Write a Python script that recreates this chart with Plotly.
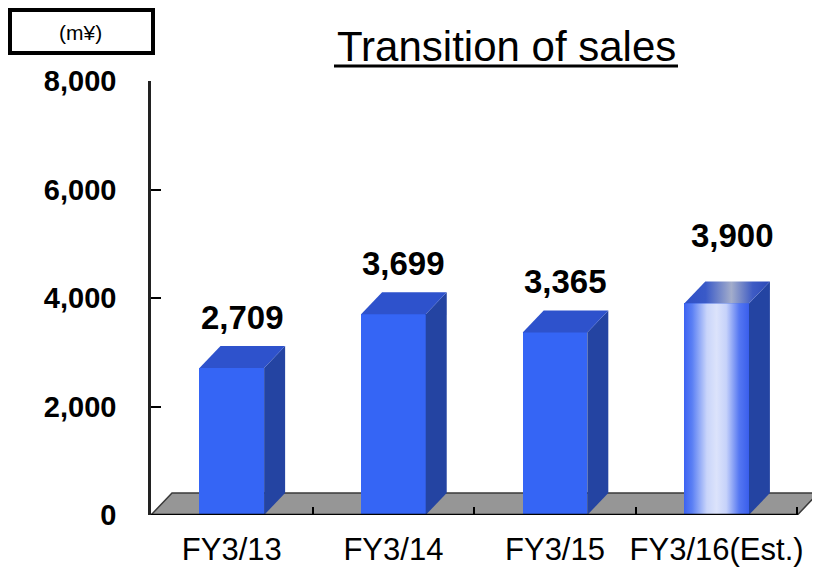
import plotly.graph_objects as go

# ---- data ----
categories = ["FY3/13", "FY3/14", "FY3/15", "FY3/16(Est.)"]
sales = [2709, 3699, 3365, 3900]
value_labels = ["2,709", "3,699", "3,365", "3,900"]
y_ticks = [0, 2000, 4000, 6000, 8000]
y_tick_labels = ["0", "2,000", "4,000", "6,000", "8,000"]
title_text = "Transition of sales"
unit_text = "(m¥)"

# ---- geometry / style ----
W, H = 820, 575
OFF = 8                      # page offset of the figure
PL, PR, PT, PB = 143, 812, 73, 507   # plot area in figure pixels
XR = [-0.5, 3.64]
YR = [0, 8000]
BW = 0.40          # bar width (category units)
DX = 0.13          # 3D depth, x units
DY = 405           # 3D depth, y units
LABEL_YSHIFT = [8, 8, 8, 25]
LABEL_XSHIFT = [0, 0, 0, 5]

FRONT = "#3565F5"
TOP = "#2E52CC"
SIDE = "#2444A2"
FONT = "Liberation Sans, Arial, sans-serif"

def px_x(p):  # screen px -> paper
    return (p - OFF - PL) / (PR - PL)

def px_y(p):
    return (PB - (p - OFF)) / (PB - PT)

xs = list(range(len(categories)))
fig = go.Figure()

# front faces
fig.add_trace(go.Bar(
    x=xs, y=sales, width=BW, marker=dict(color=FRONT, line=dict(width=0)),
    hoverinfo="skip", showlegend=False))

# side and top faces
for i, v in enumerate(sales):
    xl, xr = i - BW / 2, i + BW / 2
    fig.add_trace(go.Scatter(
        x=[xr, xr + DX, xr + DX, xr, xr], y=[0, DY, v + DY, v, 0],
        fill="toself", fillcolor=SIDE, mode="lines", line=dict(width=0),
        hoverinfo="skip", showlegend=False))
    top_kw = dict(fillcolor=TOP)
    if i == len(sales) - 1:
        top_kw = dict(fillgradient=dict(
            type="horizontal",
            colorscale=[[0, "#2E4FC6"], [0.25, "#3A5AC8"], [0.55, "#A3ADCB"],
                        [0.8, "#3E5BC4"], [1, "#2B49B8"]]))
    fig.add_trace(go.Scatter(
        x=[xl, xr, xr + DX, xl + DX, xl], y=[v, v, v + DY, v + DY, v],
        fill="toself", mode="lines", line=dict(width=0),
        hoverinfo="skip", showlegend=False, **top_kw))

# gradient front of the estimate bar
i = len(sales) - 1
v = sales[i]
xl, xr = i - BW / 2, i + BW / 2
fig.add_trace(go.Scatter(
    x=[xl, xr, xr, xl, xl], y=[0, 0, v, v, 0],
    fill="toself", mode="lines", line=dict(width=0),
    fillgradient=dict(type="horizontal", colorscale=[
        [0, "#3D63F2"], [0.12, "#5A7FF4"], [0.35, "#C9D5FA"], [0.5, "#DCE3FB"],
        [0.65, "#C6D2FA"], [0.85, "#5577F2"], [1, "#3A5EEC"]]),
    hoverinfo="skip", showlegend=False))

# value labels
annotations = []
for i, (v, t) in enumerate(zip(sales, value_labels)):
    annotations.append(dict(
        x=i + DX / 2, y=v + DY, xref="x", yref="y", text=f"<b>{t}</b>",
        showarrow=False, yanchor="bottom",
        yshift=LABEL_YSHIFT[i], xshift=LABEL_XSHIFT[i],
        font=dict(family=FONT, size=33, color="black")))

# title and unit box
annotations.append(dict(
    x=px_x(506), y=px_y(46), xref="paper", yref="paper", text=title_text,
    showarrow=False, xanchor="center", yanchor="middle",
    font=dict(family=FONT, size=42, color="black")))
annotations.append(dict(
    x=px_x(80), y=px_y(32), xref="paper", yref="paper", text=unit_text,
    showarrow=False, xanchor="center", yanchor="middle",
    font=dict(family=FONT, size=21, color="black")))

shapes = [
    # floor
    dict(type="path", xref="x", yref="y", layer="below",
         path=f"M {XR[0]},0 L 3.5,0 L {3.5 + DX},{DY} L {XR[0] + DX},{DY} Z",
         fillcolor="#969696", line=dict(color="#3a3a3a", width=1.5)),
    # front edge of floor
    dict(type="line", xref="x", yref="y", x0=XR[0], x1=3.5, y0=0, y1=0,
         line=dict(color="black", width=2.5), layer="above"),
    # title underline
    dict(type="line", xref="paper", yref="paper",
         x0=px_x(334), x1=px_x(678), y0=px_y(66), y1=px_y(66),
         line=dict(color="black", width=3)),
    # unit box
    dict(type="rect", xref="paper", yref="paper",
         x0=px_x(10), x1=px_x(153), y0=px_y(53), y1=px_y(10),
         line=dict(color="black", width=4), fillcolor="rgba(0,0,0,0)"),
]

fig.update_layout(
    width=W, height=H,
    margin=dict(l=PL, r=W - PR, t=PT, b=H - PB, pad=0),
    paper_bgcolor="white", plot_bgcolor="white",
    showlegend=False, bargap=0,
    annotations=annotations, shapes=shapes,
    xaxis=dict(
        range=XR, tickmode="array", tickvals=xs, ticktext=categories,
        ticks="", showgrid=False, zeroline=False, showline=False,
        tickfont=dict(family=FONT, size=31, color="black"),
        ticklabelstandoff=13,
        minor=dict(tickmode="array", tickvals=[0.5, 1.5, 2.5, 3.5],
                   ticks="inside", ticklen=8, tickwidth=1.5,
                   tickcolor="black", showgrid=False),
        fixedrange=True),
    yaxis=dict(
        range=YR, tickmode="array", tickvals=y_ticks, ticktext=y_tick_labels,
        ticks="inside", ticklen=10, tickwidth=2, tickcolor="black",
        showline=True, linecolor="#222222", linewidth=2.5,
        showgrid=False, zeroline=False,
        tickfont=dict(family=FONT, size=29, color="black", weight="bold"),
        ticklabelstandoff=26, fixedrange=True),
)

fig.write_html("out.html")
